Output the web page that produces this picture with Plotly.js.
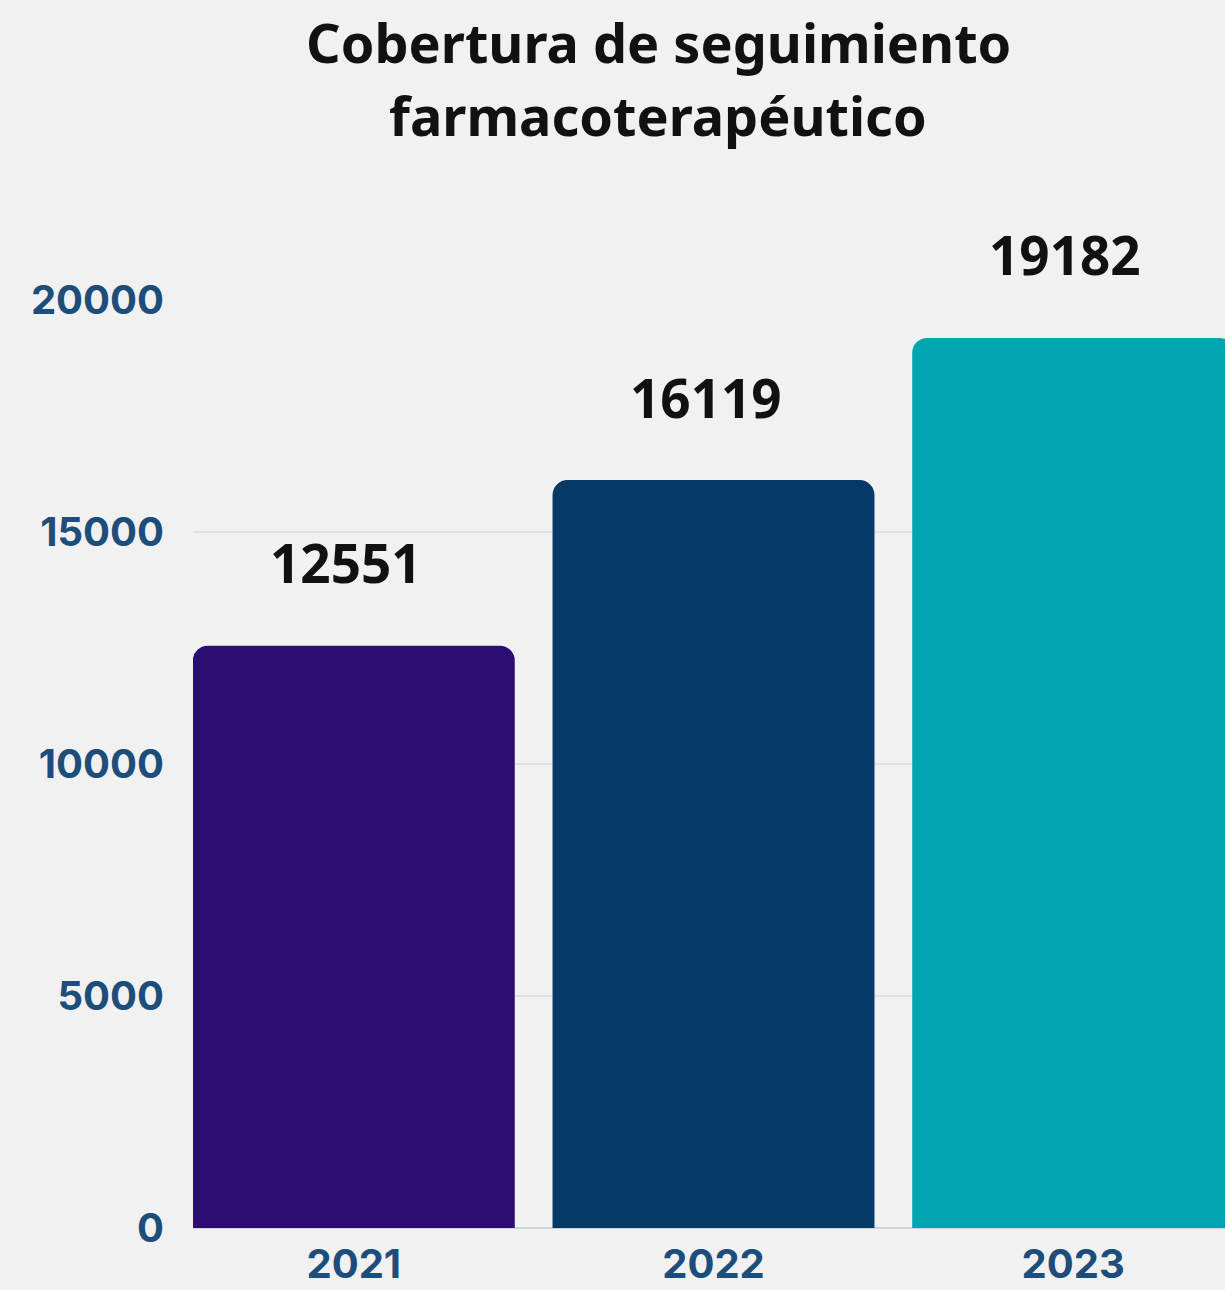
<!DOCTYPE html>
<html>
<head>
<meta charset="utf-8">
<script src="https://cdn.plot.ly/plotly-3.0.1.min.js"></script>
<style>
html,body{margin:0;padding:0;background:#f1f1f1;}
#chart{width:1225px;height:1290px;}
</style>
</head>
<body>
<div id="chart"></div>
<script>
const years = ['2021', '2022', '2023'];
const values = [12551, 16119, 19182];
const barColors = ['#2b0d73', '#063a66', '#00a5b2'];
const yTicks = [0, 5000, 10000, 15000, 20000];
const titleLines = ['Cobertura de seguimiento', 'farmacoterapéutico'];

const trace = {
  type: 'bar',
  x: years,
  y: values,
  marker: {color: barColors, cornerradius: 15, line: {width: 0}},
  hoverinfo: 'none'
};

const valueLabels = years.map((yr, i) => ({
  x: i, y: values[i], xref: 'x', yref: 'y',
  text: String(values[i]), showarrow: false,
  yanchor: 'middle', yshift: 83, xshift: -8,
  font: {family: 'Noto Sans', size: 53, color: '#111111', weight: 700}
}));

const titleY = [1.278, 1.199];
const titleAnn = titleLines.map((t, i) => ({
  x: 0.451, y: titleY[i], xref: 'paper', yref: 'paper',
  text: t, showarrow: false, xanchor: 'center', yanchor: 'middle',
  font: {family: 'Noto Sans', size: 54, color: '#111111', weight: 700}
}));

const layout = {
  width: 1225, height: 1290,
  paper_bgcolor: '#f1f1f1', plot_bgcolor: '#f1f1f1',
  margin: {l: 193, r: 0, t: 300, b: 62},
  showlegend: false,
  bargap: 0.105,
  xaxis: {
    type: 'category',
    range: [-0.447, 2.422],
    showgrid: false, zeroline: false, showline: false,
    ticks: '',
    tickfont: {family: 'Inter', size: 40, color: '#1d4d7a', weight: 700},
    ticklabelstandoff: 9
  },
  yaxis: {
    range: [0, 20000],
    tickvals: yTicks,
    ticktext: yTicks.map(String),
    showgrid: true, gridcolor: '#dde3e8', gridwidth: 2,
    zeroline: true, zerolinecolor: '#c9d7e2', zerolinewidth: 2,
    showline: false, ticks: '',
    tickfont: {family: 'Inter', size: 40, color: '#1d4d7a', weight: 700},
    ticklabelstandoff: 28
  },
  annotations: valueLabels.concat(titleAnn)
};

Plotly.newPlot('chart', [trace], layout, {displayModeBar: false, staticPlot: true});
</script>
</body>
</html>
